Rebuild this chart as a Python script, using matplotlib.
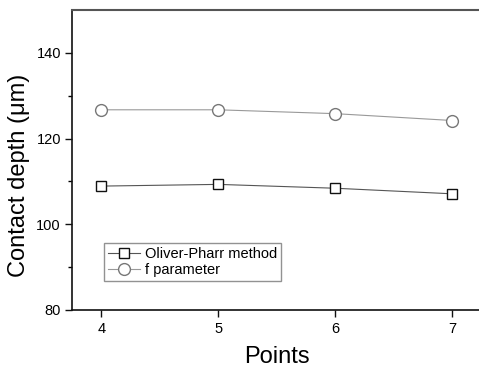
import matplotlib
matplotlib.use("Agg")
import matplotlib.pyplot as plt
from matplotlib.ticker import FixedLocator

plt.rcParams['font.family'] = ['Liberation Sans', 'DejaVu Sans']

# data
points = [4, 5, 6, 7]
oliver_pharr = [108.9, 109.3, 108.4, 107.1]
f_param = [126.7, 126.7, 125.8, 124.2]
y_major = [80, 100, 120, 140]
y_minor = [90, 110, 130]

fig = plt.figure(figsize=(4.79, 3.70), dpi=100)
ax = fig.add_axes([0.1503, 0.1622, 0.855, 0.811])

ax.plot(points, oliver_pharr, color='#555555', lw=0.8, marker='s', ms=7.5,
        mfc='white', mec='#111111', mew=1.0, label='Oliver-Pharr method')
ax.plot(points, f_param, color='#999999', lw=0.8, marker='o', ms=8.5,
        mfc='white', mec='#777777', mew=1.0, label='f parameter')

ax.set_xlim(3.75, 7.25)
ax.set_ylim(80, 150)
ax.set_xticks(points)
ax.set_yticks(y_major)
ax.yaxis.set_minor_locator(FixedLocator(y_minor))

for s in ['left', 'bottom']:
    ax.spines[s].set_color('#111111')
    ax.spines[s].set_linewidth(1.2)
ax.spines['top'].set_color('#555555')
ax.spines['top'].set_linewidth(1.5)
ax.spines['right'].set_visible(False)

ax.tick_params(axis='both', which='major', direction='out', length=5,
               width=1, labelsize=10.5, color='#111111')
ax.tick_params(axis='y', which='minor', direction='out', length=3, width=1)
ax.tick_params(axis='x', pad=4)
ax.tick_params(axis='y', pad=3)

ax.set_xlabel('Points', fontsize=17, labelpad=7)
ax.set_ylabel('Contact depth (\u03bcm)', fontsize=17)
ax.yaxis.set_label_coords(-0.103, 0.45)

leg = ax.legend(loc='lower left', bbox_to_anchor=(0.078, 0.095), fontsize=10.5,
                frameon=True, fancybox=False, borderpad=0.3, handlelength=2.2,
                handletextpad=0.3, labelspacing=0.15, borderaxespad=0)
leg.get_frame().set_edgecolor('#777777')
leg.get_frame().set_linewidth(1.0)

fig.savefig('out.png', dpi=100)
